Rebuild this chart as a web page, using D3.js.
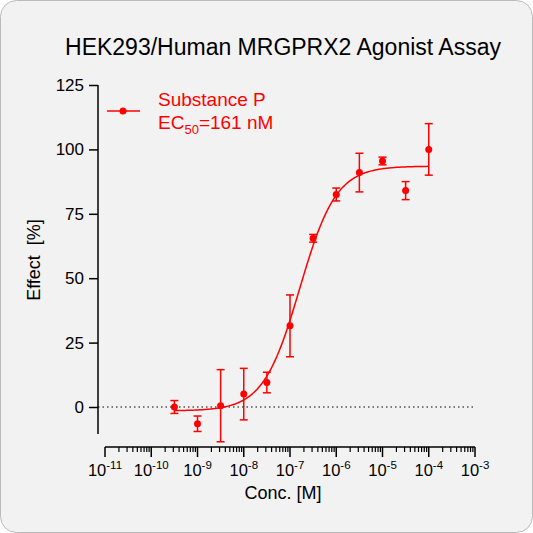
<!DOCTYPE html>
<html><head><meta charset="utf-8">
<script src="https://cdn.jsdelivr.net/npm/d3@7"></script>
<style>body{margin:0;background:#fff}</style></head>
<body><svg id="c" width="533" height="533"></svg>
<script>
// measured points (log10 conc, effect %, error)
var logConc = [-9.5, -9, -8.5, -8, -7.5, -7, -6.5, -6, -5.5, -5, -4.5, -4];
var effect = [0, -6.5, 0.5, 5, 9.5, 31.5, 65.5, 82.5, 91, 95.5, 84, 100];
var errors = [2.5, 3, 14, 10, 4, 12, 1.5, 2.5, 7.5, 1.5, 3.5, 10];
// fitted curve parameters
var fit = { bottom: -1.5, top: 93.5, logEC50: -6.79, hill: 1.1 };
var yTicks = [0, 25, 50, 75, 100, 125];
var xDecades = [-11, -10, -9, -8, -7, -6, -5, -4, -3];

var red = '#ff0000';
var font = 'Liberation Sans, Arial';
var svg = d3.select('#c');
svg.append('rect').attr('x', 0.5).attr('y', 0.5).attr('width', 532).attr('height', 532)
  .attr('rx', 16).attr('fill', '#f2f2f2').attr('stroke', '#bbb');

var x = d3.scaleLinear().domain([-11, -3]).range([105, 475]);
var y = d3.scaleLinear().domain([0, 125]).range([407, 85]);

// title
svg.append('text').attr('x', 283).attr('y', 55).attr('text-anchor', 'middle')
  .attr('font-family', font).attr('font-size', 23).text('HEK293/Human MRGPRX2 Agonist Assay');

// y axis
var yAxis = svg.append('g').attr('transform', 'translate(98,0)')
  .call(d3.axisLeft(y).tickValues(yTicks).tickSize(9).tickPadding(5));
yAxis.select('.domain').attr('d', 'M0,' + y(125) + 'V434');
yAxis.selectAll('line,path').attr('stroke', '#000').attr('stroke-width', 1.5);
yAxis.selectAll('text').attr('font-size', 17).attr('font-family', font);

// x axis with log minor ticks
var xg = svg.append('g').attr('transform', 'translate(0,447)');
xg.append('line').attr('x1', x(-11)).attr('x2', x(-3)).attr('stroke', '#000').attr('stroke-width', 1.5);
var minors = [];
xDecades.slice(0, -1).forEach(function (d) {
  for (var k = 2; k < 10; k++) minors.push(d + Math.log10(k));
});
xg.selectAll('.mn').data(minors).enter().append('line')
  .attr('x1', x).attr('x2', x).attr('y1', 0).attr('y2', 5).attr('stroke', '#000').attr('stroke-width', 1.2);
xg.selectAll('.mj').data(xDecades).enter().append('line')
  .attr('x1', x).attr('x2', x).attr('y1', 0).attr('y2', 10).attr('stroke', '#000').attr('stroke-width', 1.5);
var lbl = xg.selectAll('.lb').data(xDecades).enter().append('text')
  .attr('x', x).attr('y', 29).attr('text-anchor', 'middle')
  .attr('font-family', font).attr('font-size', 16.5);
lbl.append('tspan').text('10');
lbl.append('tspan').attr('dy', -7).attr('font-size', 11.5).text(function (d) { return d; });

// axis titles
svg.append('text').attr('x', 283).attr('y', 499).attr('text-anchor', 'middle')
  .attr('font-family', font).attr('font-size', 18).text('Conc. [M]');
svg.append('text').attr('transform', 'translate(40,260) rotate(-90)').attr('text-anchor', 'middle')
  .attr('font-family', font).attr('font-size', 18).attr('xml:space', 'preserve').text('Effect  [%]');

// zero line
svg.append('line').attr('x1', 98).attr('x2', x(-3)).attr('y1', y(0)).attr('y2', y(0))
  .attr('stroke', '#000').attr('stroke-dasharray', '1.5,3').attr('stroke-width', 1);

// fitted curve
var curvePts = d3.range(-9.5, -3.999, 0.02).map(function (lx) {
  return [lx, fit.bottom + (fit.top - fit.bottom) / (1 + Math.pow(10, (fit.logEC50 - lx) * fit.hill))];
});
svg.append('path').datum(curvePts).attr('fill', 'none').attr('stroke', red).attr('stroke-width', 1.5)
  .attr('d', d3.line().x(function (d) { return x(d[0]); }).y(function (d) { return y(d[1]); }));

// error bars and points
var pts = logConc.map(function (c, i) { return { c: c, v: effect[i], e: errors[i] }; });
var eb = svg.selectAll('.eb').data(pts).enter().append('g').attr('stroke', red).attr('stroke-width', 1.5);
eb.append('line').attr('x1', function (d) { return x(d.c); }).attr('x2', function (d) { return x(d.c); })
  .attr('y1', function (d) { return y(d.v - d.e); }).attr('y2', function (d) { return y(d.v + d.e); });
[1, -1].forEach(function (s) {
  eb.append('line').attr('x1', function (d) { return x(d.c) - 4; }).attr('x2', function (d) { return x(d.c) + 4; })
    .attr('y1', function (d) { return y(d.v + s * d.e); }).attr('y2', function (d) { return y(d.v + s * d.e); });
});
svg.selectAll('.pt').data(pts).enter().append('circle')
  .attr('cx', function (d) { return x(d.c); }).attr('cy', function (d) { return y(d.v); })
  .attr('r', 3.5).attr('fill', red);

// legend
svg.append('line').attr('x1', 107).attr('x2', 140).attr('y1', 111).attr('y2', 111).attr('stroke', red).attr('stroke-width', 1.5);
svg.append('circle').attr('cx', 123).attr('cy', 111).attr('r', 3.5).attr('fill', red);
svg.append('text').attr('x', 158).attr('y', 106).attr('fill', red)
  .attr('font-family', font).attr('font-size', 19).text('Substance P');
var ec = svg.append('text').attr('x', 158).attr('y', 129).attr('fill', red)
  .attr('font-family', font).attr('font-size', 19);
ec.append('tspan').text('EC');
ec.append('tspan').attr('dy', 5).attr('font-size', 13).text('50');
ec.append('tspan').attr('dy', -5).text('=161 nM');
</script></body></html>
